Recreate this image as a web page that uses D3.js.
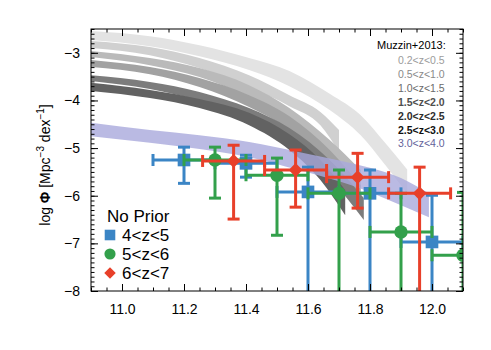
<!DOCTYPE html>
<html>
<head>
<meta charset="utf-8">
<script src="https://cdn.jsdelivr.net/npm/d3@7"></script>
<style>
body { margin: 0; background: #fff; }
text { font-family: "Liberation Sans", Arial, sans-serif; }
</style>
</head>
<body>
<div id="chart"></div>
<script>
// Muzzin+2013 mass functions (upper / lower edge of each band)
const muzzinLabels = ["0.2<z<0.5", "0.5<z<1.0", "1.0<z<1.5", "1.5<z<2.0", "2.0<z<2.5", "2.5<z<3.0", "3.0<z<4.0"];

const bandAMass = [10.9, 11.09, 11.25, 11.41, 11.54, 11.67, 11.77, 11.85, 11.92];
const bandAHi   = [-2.54, -2.65, -2.84, -3.11, -3.38, -3.86, -4.31, -4.90, -5.45];
const bandALo   = [-2.73, -2.86, -3.07, -3.36, -3.70, -4.20, -4.73, -5.36, -5.95];

const bandBMass = [10.9, 11.09, 11.25, 11.41, 11.54, 11.64, 11.70];
const bandBHi   = [-2.75, -2.88, -3.11, -3.47, -3.89, -4.24, -4.62];
const bandBLo   = [-2.90, -3.05, -3.32, -3.72, -4.12, -4.52, -5.08];

const bandCMass = [10.9, 11.09, 11.25, 11.41, 11.54, 11.67, 11.77];
const bandCHi   = [-2.96, -3.11, -3.32, -3.68, -4.16, -4.83, -5.46];
const bandCLo   = [-3.09, -3.26, -3.51, -3.93, -4.41, -5.15, -5.84];

const bandDMass = [10.9, 11.09, 11.25, 11.41, 11.54, 11.67, 11.77];
const bandDHi   = [-3.15, -3.30, -3.53, -3.89, -4.33, -5.04, -5.78];
const bandDLo   = [-3.30, -3.45, -3.72, -4.14, -4.62, -5.42, -6.20];

const bandEMass = [10.9, 11.09, 11.25, 11.41, 11.54, 11.67, 11.78];
const bandEHi   = [-3.47, -3.61, -3.82, -4.16, -4.58, -5.25, -6.05];
const bandELo   = [-3.59, -3.76, -4.01, -4.41, -4.87, -5.63, -6.51];

const bandFMass = [10.9, 11.09, 11.25, 11.41, 11.54, 11.64, 11.72];
const bandFHi   = [-3.63, -3.78, -3.97, -4.26, -4.71, -5.25, -5.88];
const bandFLo   = [-3.80, -3.95, -4.16, -4.52, -5.04, -5.67, -6.41];

const bandGMass = [10.9, 11.09, 11.25, 11.41, 11.57, 11.74, 11.90, 11.99];
const bandGHi   = [-4.47, -4.62, -4.73, -4.87, -5.08, -5.32, -5.63, -5.95];
const bandGLo   = [-4.75, -4.89, -5.02, -5.19, -5.46, -5.78, -6.20, -6.45];

// This work, No Prior
const z4Mass = [11.2, 11.4, 11.6, 11.8, 12.0];
const z4Phi  = [-5.25, -5.32, -5.92, -5.95, -6.97];
const z4Up   = [-4.98, -5.15, -5.40, -5.46, -5.99];
const z4Down = [-5.74, -5.61, -9, -9, -9];

const z5Mass = [11.3, 11.5, 11.7, 11.9, 12.1];
const z5Phi  = [-5.25, -5.57, -5.95, -6.76, -7.25];
const z5Up   = [-4.98, -5.21, -5.46, -5.95, -5.93];
const z5Down = [-6.05, -6.83, -9, -9, -9];

const z6Mass = [11.36, 11.56, 11.76, 11.96];
const z6Phi  = [-5.27, -5.46, -5.61, -5.95];
const z6Up   = [-4.94, -5.04, -5.11, -5.40];
const z6Down = [-6.49, -6.24, -6.26, -9];

const binHalf = 0.1;

const xMajor = [11.0, 11.2, 11.4, 11.6, 11.8, 12.0];
const yMajor = [-8, -7, -6, -5, -4, -3];

const width = 491, height = 350;
const pLeft = 91, pRight = 463, pTop = 29, pBottom = 291;

const svg = d3.select("#chart").append("svg")
    .attr("width", width)
    .attr("height", height);

const x = d3.scaleLinear().domain([10.9, 12.1]).range([pLeft, pRight]);
const y = d3.scaleLinear().domain([-8, -2.5]).range([pBottom, pTop]);

svg.append("clipPath").attr("id", "clip")
  .append("rect")
    .attr("x", pLeft).attr("y", pTop)
    .attr("width", pRight - pLeft).attr("height", pBottom - pTop);

const plot = svg.append("g").attr("clip-path", "url(#clip)");

// bands
const bands = [
  {m: bandAMass, hi: bandAHi, lo: bandALo, color: "#e3e3e3"},
  {m: bandBMass, hi: bandBHi, lo: bandBLo, color: "#d0d0d0"},
  {m: bandCMass, hi: bandCHi, lo: bandCLo, color: "#bababa"},
  {m: bandDMass, hi: bandDHi, lo: bandDLo, color: "#a2a2a2"},
  {m: bandEMass, hi: bandEHi, lo: bandELo, color: "#7c7c7c"},
  {m: bandFMass, hi: bandFHi, lo: bandFLo, color: "#626262"},
  {m: bandGMass, hi: bandGHi, lo: bandGLo, color: "#a9a9dc", opacity: 0.8}
];

const area = d3.area()
    .x(d => x(d.m))
    .y0(d => y(d.lo))
    .y1(d => y(d.hi))
    .curve(d3.curveMonotoneX);

plot.selectAll(".band")
  .data(bands)
  .enter().append("path")
    .attr("class", "band")
    .attr("d", b => area(b.m.map((m, i) => ({m: m, hi: b.hi[i], lo: b.lo[i]}))))
    .style("fill", b => b.color)
    .style("fill-opacity", b => b.opacity || 1);

// data points
const series = [
  {mass: z4Mass, phi: z4Phi, up: z4Up, down: z4Down, color: "#3b85c5", shape: d3.symbolSquare, size: 160, rot: 0},
  {mass: z5Mass, phi: z5Phi, up: z5Up, down: z5Down, color: "#33a04b", shape: d3.symbolCircle, size: 140, rot: 0},
  {mass: z6Mass, phi: z6Phi, up: z6Up, down: z6Down, color: "#e8402a", shape: d3.symbolSquare, size: 95, rot: 45}
];

const cap = 6;
series.forEach(s => {
  const g = plot.append("g")
      .style("stroke", s.color)
      .style("fill", s.color)
      .style("stroke-width", 3);
  s.mass.forEach((m, i) => {
    const cx = x(m), cy = y(s.phi[i]);
    const x0 = x(m - binHalf), x1 = x(m + binHalf);
    const yU = y(s.up[i]), yD = y(s.down[i]);
    g.append("line").attr("x1", x0).attr("x2", x1).attr("y1", cy).attr("y2", cy);
    g.append("line").attr("x1", x0).attr("x2", x0).attr("y1", cy - cap).attr("y2", cy + cap);
    g.append("line").attr("x1", x1).attr("x2", x1).attr("y1", cy - cap).attr("y2", cy + cap);
    g.append("line").attr("x1", cx).attr("x2", cx).attr("y1", yU).attr("y2", yD);
    g.append("line").attr("x1", cx - cap).attr("x2", cx + cap).attr("y1", yU).attr("y2", yU);
    if (s.down[i] > -8) {
      g.append("line").attr("x1", cx - cap).attr("x2", cx + cap).attr("y1", yD).attr("y2", yD);
    }
    g.append("path")
        .attr("transform", `translate(${cx},${cy}) rotate(${s.rot})`)
        .attr("d", d3.symbol().type(s.shape).size(s.size)())
        .style("stroke", "none");
  });
});

// axes (ticks inward on all sides)
const xMinor = d3.range(10.9, 12.1001, 0.05);
const yMinor = d3.range(-8, -2.4999, 0.1);

function axisGroup(axis, tx, ty) {
  const g = svg.append("g").attr("transform", `translate(${tx},${ty})`).call(axis);
  g.select(".domain").remove();
  g.selectAll("line").style("stroke", "#000");
  return g;
}

axisGroup(d3.axisBottom(x).tickValues(xMinor).tickSize(-3.5).tickFormat(""), 0, pBottom);
axisGroup(d3.axisTop(x).tickValues(xMinor).tickSize(-3.5).tickFormat(""), 0, pTop);
axisGroup(d3.axisLeft(y).tickValues(yMinor).tickSize(-3.5).tickFormat(""), pLeft, 0);
axisGroup(d3.axisRight(y).tickValues(yMinor).tickSize(-3.5).tickFormat(""), pRight, 0);

const xb = axisGroup(d3.axisBottom(x).tickValues(xMajor).tickSize(-7).tickPadding(13).tickFormat(d3.format(".1f")), 0, pBottom);
xb.selectAll("text").style("font-size", "14px").style("fill", "#000")
    .attr("font-family", null);
axisGroup(d3.axisTop(x).tickValues(xMajor).tickSize(-7).tickFormat(""), 0, pTop);
const yl = axisGroup(d3.axisLeft(y).tickValues(yMajor).tickSize(-7).tickPadding(11).tickFormat(d3.format("d")), pLeft, 0);
yl.selectAll("text").style("font-size", "14px").style("fill", "#000")
    .attr("font-family", null);
axisGroup(d3.axisRight(y).tickValues(yMajor).tickSize(-7).tickFormat(""), pRight, 0);

svg.append("rect")
    .attr("x", pLeft).attr("y", pTop)
    .attr("width", pRight - pLeft).attr("height", pBottom - pTop)
    .style("fill", "none").style("stroke", "#000").style("stroke-width", 1);

// y title
const yt = svg.append("text")
    .attr("transform", `translate(50,${(pTop + pBottom) / 2 + 5}) rotate(-90)`)
    .attr("text-anchor", "middle")
    .style("font-size", "14px");
yt.append("tspan").text("log ");
yt.append("tspan").text("Φ").style("font-weight", "bold");
yt.append("tspan").text(" [Mpc");
yt.append("tspan").text("−3").attr("dy", -6).style("font-size", "10px");
yt.append("tspan").text(" dex").attr("dy", 6);
yt.append("tspan").text("−1").attr("dy", -6).style("font-size", "10px");
yt.append("tspan").text("]").attr("dy", 6);

// Muzzin legend
const muzzinColors = ["#9c9c9c", "#8a8a8a", "#6a6a6a", "#4e4e4e", "#2e2e2e", "#111111", "#63639a"];
const muzzinWeights = ["normal", "normal", "normal", "bold", "bold", "bold", "normal"];
svg.append("text")
    .attr("x", 377).attr("y", 49)
    .style("font-size", "11px")
    .text("Muzzin+2013:");
svg.selectAll(".mlab")
  .data(muzzinLabels)
  .enter().append("text")
    .attr("class", "mlab")
    .attr("x", 398)
    .attr("y", (d, i) => 64 + i * 13.9)
    .style("font-size", "10.5px")
    .style("fill", (d, i) => muzzinColors[i])
    .style("font-weight", (d, i) => muzzinWeights[i])
    .text(d => d);

// No Prior legend
const legendLabels = ["4<z<5", "5<z<6", "6<z<7"];
svg.append("text")
    .attr("x", 107).attr("y", 222)
    .style("font-size", "17px")
    .text("No Prior");
series.forEach((s, i) => {
  const ly = 235 + i * 19;
  svg.append("path")
      .attr("transform", `translate(110,${ly}) rotate(${s.rot})`)
      .attr("d", d3.symbol().type(s.shape).size(s.size * 0.7)())
      .style("fill", s.color);
  svg.append("text")
      .attr("x", 122).attr("y", ly + 6)
      .style("font-size", "17px")
      .text(legendLabels[i]);
});
</script>
</body>
</html>
